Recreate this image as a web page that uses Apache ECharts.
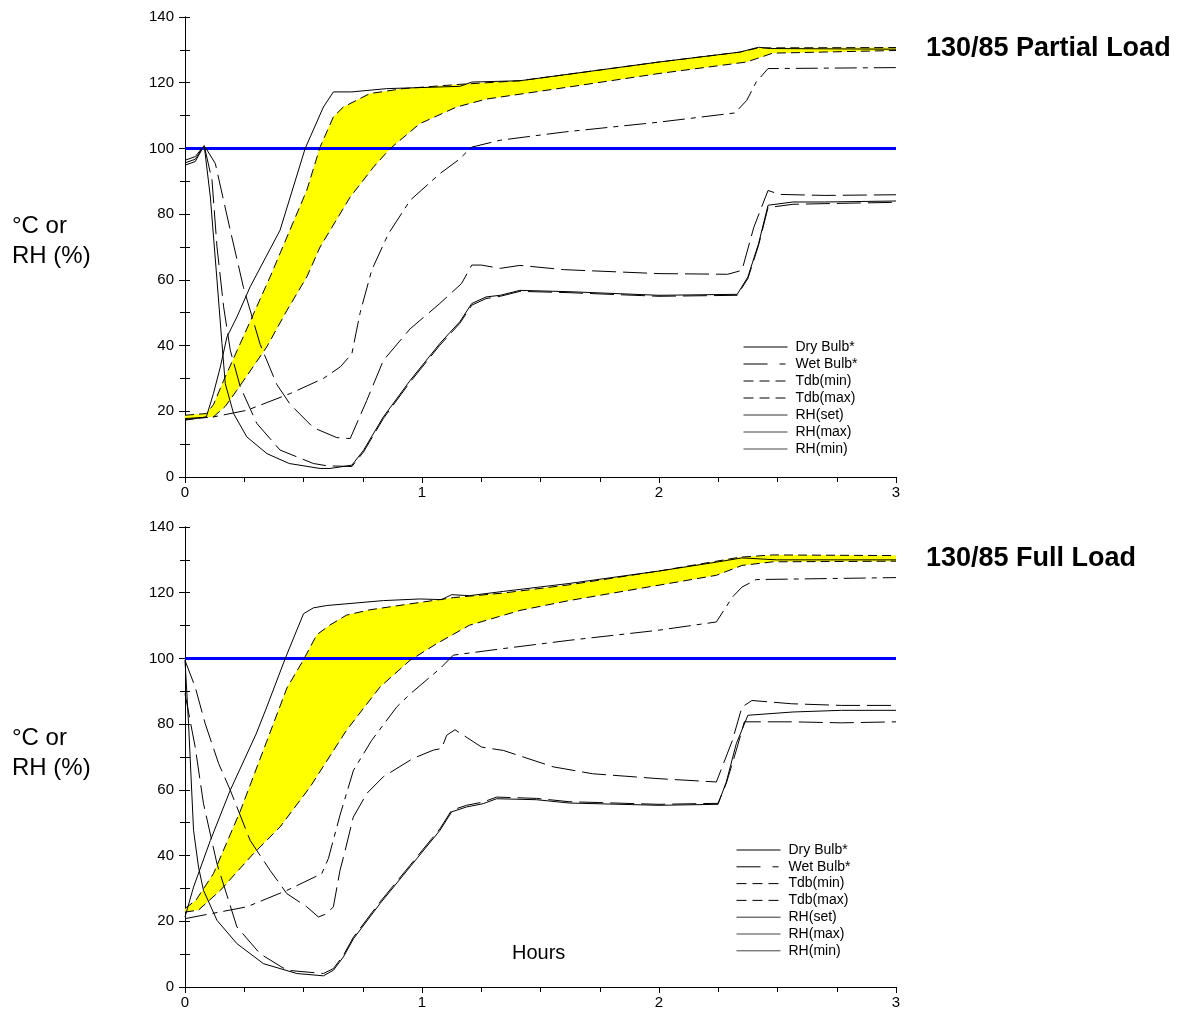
<!DOCTYPE html>
<html>
<head>
<meta charset="utf-8">
<script src="https://cdn.jsdelivr.net/npm/echarts@6/dist/echarts.min.js"></script>
<style>
  html, body { margin: 0; padding: 0; background: #fff; }
  #chart { width: 1179px; height: 1013px; }
</style>
</head>
<body>
<div id="chart"></div>
<script>
// ---- data: [hours, value] ----
// top panel: 130/85 Partial Load
var dryTop = [[0,17.3],[0.09,18.3],[0.12,25.4],[0.149,33.5],[0.177,42.6],[0.219,48.7],[0.275,57.9],[0.401,75.1],[0.507,100],[0.584,112.6],[0.626,117.2],[0.704,117.2],[0.851,118.2],[1.16,118.9],[1.21,120.2],[1.413,120.6],[1.62,122.6],[2.0,126.3],[2.34,129.3],[2.42,130.8],[2.47,130.4],[3,130.2]];
var wetTop = [[0,17.8],[0.121,18.3],[0.261,20.3],[0.444,25.4],[0.584,30],[0.655,33.5],[0.704,37.5],[0.739,50],[0.788,63],[0.858,74],[0.95,84.2],[1.075,92.3],[1.152,96.4],[1.21,100.4],[1.33,102.5],[1.6,105],[2.0,108],[2.32,110.8],[2.37,114.6],[2.41,120.2],[2.46,124.3],[3,124.6]];
var tdbMaxTop = [[0,18.8],[0.09,19.3],[0.12,22],[0.163,29.4],[0.233,40.6],[0.359,60.9],[0.514,87.3],[0.57,100.4],[0.626,109.6],[0.668,112.6],[0.78,116.7],[0.92,118.2],[1.16,119.5],[1.413,120.6],[1.62,122.6],[2.0,126.3],[2.34,129.3],[2.42,130.6],[3,130.7]];
var tdbMinTop = [[0,17.5],[0.12,18.3],[0.17,21.5],[0.219,26.4],[0.345,39.6],[0.43,50.7],[0.514,60.9],[0.57,70],[0.697,85.2],[0.795,94.3],[0.865,99.9],[0.99,107.5],[1.146,112.6],[1.27,115],[1.62,118.7],[2.0,122.8],[2.37,126.3],[2.48,129],[3,129.8]];
var rhSetTop = [[0,96.4],[0.043,97.5],[0.081,100.9],[0.107,85.2],[0.135,59.9],[0.156,40.6],[0.17,28.4],[0.205,19.3],[0.261,12.2],[0.346,7.1],[0.44,4.1],[0.57,2.6],[0.612,2.6],[0.704,3.6],[0.753,8.1],[0.837,18.3],[0.95,29.4],[1.075,40.6],[1.16,47.3],[1.21,52.8],[1.27,54.8],[1.33,55.3],[1.413,56.8],[1.62,56.4],[2.0,55.3],[2.33,55.6],[2.375,60.9],[2.42,71],[2.46,82.7],[2.565,83.7],[2.7,83.7],[3,84]];
var rhMaxTop = [[0,94.9],[0.043,96],[0.081,100.9],[0.128,95.4],[0.191,75.1],[0.247,57.6],[0.317,40.4],[0.387,28.2],[0.444,22.1],[0.542,15],[0.64,12],[0.697,11.7],[0.767,23.3],[0.837,35.5],[0.95,45.1],[1.075,52.8],[1.167,58.9],[1.21,64.5],[1.25,64.5],[1.33,63.5],[1.413,64.4],[1.6,63.1],[2.0,61.9],[2.29,61.7],[2.35,62.9],[2.4,76],[2.46,87.2],[2.51,86],[2.7,85.7],[3,85.9]];
var rhMinTop = [[0,95.6],[0.043,96.7],[0.081,100.9],[0.114,90.3],[0.135,70],[0.163,51.8],[0.191,38.6],[0.233,27.5],[0.303,16.3],[0.401,8.2],[0.542,4.1],[0.6,3.4],[0.704,3.2],[0.753,7.6],[0.837,17.8],[0.95,28.9],[1.075,40.1],[1.16,46.8],[1.21,52.3],[1.27,54.3],[1.33,55],[1.413,56.5],[1.62,56.1],[2.0,55],[2.33,55.3],[2.375,60.4],[2.42,70.5],[2.46,82],[2.565,83],[2.7,83.2],[3,83.6]];

// bottom panel: 130/85 Full Load
var dryBot = [[0,21.3],[0.036,30.4],[0.107,44.6],[0.191,59.9],[0.3,77],[0.345,85.2],[0.423,100],[0.5,113.6],[0.542,115.4],[0.598,116.1],[0.837,117.6],[0.991,118.1],[1.083,117.9],[1.125,119.4],[1.2,119.1],[1.343,120.4],[1.62,122.8],[2.0,126.6],[2.242,129.3],[2.35,130.6],[2.495,130],[3,130]];
var wetBot = [[0,20.8],[0.261,24.4],[0.43,29.4],[0.577,34.5],[0.605,39.1],[0.654,52.3],[0.711,66],[0.788,75.1],[0.893,85.2],[0.95,89.2],[1.076,96.9],[1.132,101],[1.343,103],[1.62,105.5],[2.0,108.6],[2.242,111.1],[2.31,118.7],[2.35,121.7],[2.41,124],[3,124.6]];
var tdbMaxBot = [[0,23.9],[0.046,26.4],[0.12,34.5],[0.233,53.5],[0.345,74.8],[0.43,91],[0.5,99.6],[0.556,107.2],[0.612,110.2],[0.682,113.2],[0.78,114.8],[0.921,116.3],[1.132,118.5],[1.343,119.9],[1.62,122.4],[2.0,126.6],[2.34,130.8],[2.48,131.5],[3,131.3]];
var tdbMinBot = [[0,22.8],[0.057,23.4],[0.149,29.4],[0.289,40.6],[0.401,48.7],[0.528,60.9],[0.682,78.2],[0.823,91.3],[0.949,99.4],[1.062,104.5],[1.2,110.1],[1.413,114.6],[1.62,117.6],[2.0,122.3],[2.242,125.3],[2.35,128.3],[2.48,129.4],[3,129.6]];
var rhSetBot = [[0,99.4],[0.015,80.2],[0.036,47.7],[0.057,36.5],[0.078,29.4],[0.135,20.3],[0.219,13.2],[0.331,7.1],[0.472,4.1],[0.584,3.4],[0.626,5.1],[0.668,9.1],[0.711,14.7],[0.823,25.4],[0.949,36.5],[1.076,47.7],[1.125,53.3],[1.188,54.8],[1.258,55.8],[1.315,57.3],[1.483,57],[1.62,56],[2.0,55.3],[2.249,55.6],[2.284,62.4],[2.326,74],[2.375,82.7],[2.565,83.7],[2.77,84.2],[3,84.2]];
var rhMaxBot = [[0,99.4],[0.043,91.3],[0.085,80.2],[0.142,68],[0.191,59.9],[0.275,44.6],[0.359,35.5],[0.43,28.4],[0.514,24.4],[0.563,21.3],[0.598,22.3],[0.626,24.4],[0.654,35.5],[0.676,41.6],[0.71,51.7],[0.767,58.9],[0.837,64],[0.907,67.1],[0.963,69.6],[1.048,72.1],[1.083,72.6],[1.104,76.6],[1.139,78.3],[1.252,73],[1.343,72],[1.554,67],[1.72,64.9],[2.0,63.4],[2.242,62.4],[2.31,75.1],[2.35,85.2],[2.392,87.2],[2.56,86.2],[2.77,85.7],[3,85.7]];
var rhMinBot = [[0,89.3],[0.043,73],[0.078,55.8],[0.135,37.5],[0.219,18.3],[0.317,10.1],[0.43,5.1],[0.584,4.1],[0.626,5.6],[0.668,9.6],[0.711,15.2],[0.823,25.9],[0.949,37],[1.076,48.2],[1.125,53.8],[1.188,55.3],[1.258,56.3],[1.315,57.8],[1.483,57.4],[1.62,56.4],[2.0,55.6],[2.249,55.9],[2.284,62],[2.326,72],[2.36,80.7],[2.56,80.7],[2.77,80.4],[3,80.7]];

var refLine = [[0,100],[3,100]];
var names = ['Dry Bulb*','Wet Bulb*','Tdb(min)','Tdb(max)','RH(set)','RH(max)','RH(min)'];
var panelTitles = ['130/85 Partial Load','130/85 Full Load'];

var FONT = '"Liberation Sans", Arial, sans-serif';
var DASH_WET = [22,6,5,6];
var DASH_TDB = [9,5];
var DASH_RH = [24,7];

var chart = echarts.init(document.getElementById('chart'));

function lineS(name, data, i, dash) {
  return {
    name: name, type: 'line', data: data,
    xAxisIndex: i * 2, yAxisIndex: i * 2,
    symbol: 'none', z: 4, silent: true,
    lineStyle: { color: '#000', width: 1, type: dash || 'solid' }
  };
}

// yellow band between Tdb(max) and Tdb(min)
function bandS(upper, lower, i) {
  return {
    type: 'custom', xAxisIndex: i * 2, yAxisIndex: i * 2,
    data: [[0, 0]], silent: true, z: 1,
    renderItem: function (params, api) {
      var pts = upper.map(function (p) { return api.coord(p); })
        .concat(lower.slice().reverse().map(function (p) { return api.coord(p); }));
      return { type: 'polygon', shape: { points: pts }, style: { fill: '#ffff00' } };
    }
  };
}

function blueS(i) {
  return {
    type: 'line', data: refLine, xAxisIndex: i * 2, yAxisIndex: i * 2,
    symbol: 'none', z: 3, silent: true,
    lineStyle: { color: '#0000ff', width: 3 }
  };
}

var tops = [17, 527];
var grids = [], xAxes = [], yAxes = [], legends = [], graphics = [];
var legendLeft = [743, 736], legendTop = [340, 843], legendGap = [3, 2.8];

tops.forEach(function (t, i) {
  grids.push({ left: 185, width: 711, top: t, height: 460 });
  xAxes.push({
    type: 'value', gridIndex: i, min: 0, max: 3, interval: 1,
    axisLine: { lineStyle: { color: '#000', width: 1 } },
    axisTick: { length: 6, lineStyle: { color: '#000' } },
    minorTick: { show: true, splitNumber: 4, length: 5, lineStyle: { color: '#000' } },
    axisLabel: { color: '#000', fontSize: 15, fontFamily: FONT, margin: 8 },
    splitLine: { show: false }
  });
  xAxes.push({
    type: 'value', gridIndex: i, min: 0, max: 3, interval: 1, position: 'top',
    axisLine: { lineStyle: { color: '#000', width: 1 } },
    axisTick: { inside: true, length: 5, lineStyle: { color: '#000' } },
    axisLabel: { show: false }, splitLine: { show: false }
  });
  yAxes.push({
    type: 'value', gridIndex: i, min: 0, max: 140, interval: 20,
    axisLine: { show: true, lineStyle: { color: '#000', width: 1 } },
    axisTick: { show: true, length: 6, lineStyle: { color: '#000' } },
    minorTick: { show: true, splitNumber: 2, length: 5, lineStyle: { color: '#000' } },
    axisLabel: { color: '#000', fontSize: 15, fontFamily: FONT, margin: 11 },
    splitLine: { show: false }
  });
  yAxes.push({
    type: 'value', gridIndex: i, min: 0, max: 140, interval: 20, position: 'right',
    axisLine: { show: true, lineStyle: { color: '#000', width: 1 } },
    axisTick: { show: true, length: 5, lineStyle: { color: '#000' } },
    minorTick: { show: true, splitNumber: 2, length: 5, lineStyle: { color: '#000' } },
    axisLabel: { show: false }, splitLine: { show: false }
  });

  legends.push({
    orient: 'vertical', left: legendLeft[i], top: legendTop[i], padding: 0,
    itemWidth: 44, itemHeight: 14, itemGap: legendGap[i],
    selectedMode: false,
    itemStyle: { opacity: 0 },
    textStyle: { color: '#000', fontSize: 14, fontFamily: FONT, padding: [0, 0, 0, 3] },
    data: [
      { name: names[0], lineStyle: { color: '#000', width: 1, type: 'solid' } },
      { name: names[1], lineStyle: { color: '#000', width: 1, type: [24, 12, 6, 12] } },
      { name: names[2], lineStyle: { color: '#000', width: 1, type: [10, 6] } },
      { name: names[3], lineStyle: { color: '#000', width: 1, type: [10, 6] } },
      { name: names[4], lineStyle: { color: '#333', width: 1, type: 'solid' } },
      { name: names[5], lineStyle: { color: '#444', width: 1, type: 'solid' } },
      { name: names[6], lineStyle: { color: '#444', width: 1, type: 'solid' } }
    ]
  });

  var off = i === 0 ? 0 : 512;
  graphics.push({ type: 'text', left: 12, top: 214 + off,
    style: { text: '°C or', font: '24px ' + FONT, fill: '#000' } });
  graphics.push({ type: 'text', left: 12, top: 244 + off,
    style: { text: 'RH (%)', font: '24px ' + FONT, fill: '#000' } });
  graphics.push({ type: 'text', left: 926, top: (i === 0 ? 35 : 545),
    style: { text: panelTitles[i], font: 'bold 27px ' + FONT, fill: '#000' } });
});

graphics.push({ type: 'text', left: 512, top: 943,
  style: { text: 'Hours', font: '20px ' + FONT, fill: '#000' } });

var series = [
  bandS(tdbMaxTop, tdbMinTop, 0),
  blueS(0),
  lineS(names[0], dryTop, 0),
  lineS(names[1], wetTop, 0, DASH_WET),
  lineS(names[2], tdbMinTop, 0, DASH_TDB),
  lineS(names[3], tdbMaxTop, 0, DASH_TDB),
  lineS(names[4], rhSetTop, 0),
  lineS(names[5], rhMaxTop, 0, DASH_RH),
  lineS(names[6], rhMinTop, 0, DASH_RH),
  bandS(tdbMaxBot, tdbMinBot, 1),
  blueS(1),
  lineS(names[0], dryBot, 1),
  lineS(names[1], wetBot, 1, DASH_WET),
  lineS(names[2], tdbMinBot, 1, DASH_TDB),
  lineS(names[3], tdbMaxBot, 1, DASH_TDB),
  lineS(names[4], rhSetBot, 1),
  lineS(names[5], rhMaxBot, 1, DASH_RH),
  lineS(names[6], rhMinBot, 1, DASH_RH)
];

chart.setOption({
  animation: false,
  backgroundColor: '#fff',
  textStyle: { fontFamily: FONT },
  grid: grids,
  xAxis: xAxes,
  yAxis: yAxes,
  legend: legends,
  graphic: graphics,
  series: series
});
</script>
</body>
</html>
